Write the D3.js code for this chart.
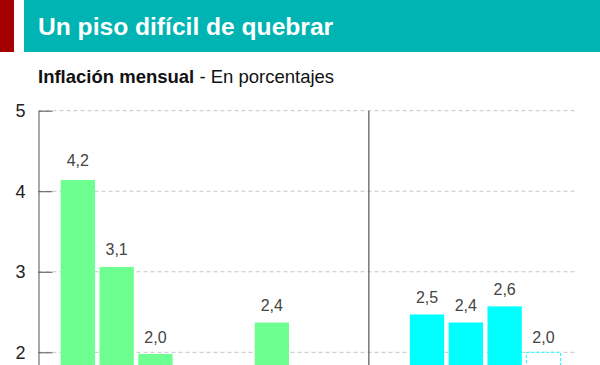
<!DOCTYPE html>
<html><head><meta charset="utf-8">
<script src="https://cdn.jsdelivr.net/npm/d3@7"></script>
<style>
html,body{margin:0;padding:0;background:#fff;overflow:hidden}
svg{display:block;font-family:"Liberation Sans",Arial,Helvetica,sans-serif}
</style></head>
<body><svg id="c" width="600" height="365"></svg>
<script>
const title = "Un piso difícil de quebrar";
const subtitleBold = "Inflación mensual";
const subtitleRest = " - En porcentajes";
const months = ["May 16","Jun 16","Jul 16","Ago 16","Sep 16","Oct 16","Nov 16","Dic 16","Ene 17","Feb 17","Mar 17","Abr 17","May 17"];
const years = ["2016","2016","2016","2016","2016","2016","2016","2016","2017","2017","2017","2017","2017"];
const barValues = [4.14, 3.06, 1.98, 0.2, 1.1, 2.37, 1.6, 1.2, 1.3, 2.47, 2.37, 2.57, 2.0];
const labelValues = [4.2, 3.1, 2.0, 0.2, 1.1, 2.4, 1.6, 1.2, 1.3, 2.5, 2.4, 2.6, 2.0];
const estimate = [false,false,false,false,false,false,false,false,false,false,false,false,true];
const yTicks = [2, 3, 4, 5];

const W = 600, H = 365;
const svg = d3.select("#c");
const fmt = v => d3.format(".1f")(v).replace(".", ",");

// header
svg.append("rect").attr("x",0).attr("y",0).attr("width",14).attr("height",52).attr("fill","#a50000");
svg.append("rect").attr("x",24).attr("y",0).attr("width",576).attr("height",52).attr("fill","#00b4b4");
svg.append("text").attr("x",38).attr("y",35).attr("fill","#fff")
  .attr("font-size",24.6).attr("font-weight","bold").text(title);

const sub = svg.append("text").attr("x",38).attr("y",83).attr("font-size",18.5).attr("fill","#111");
sub.append("tspan").attr("font-weight","bold").text(subtitleBold);
sub.append("tspan").text(subtitleRest);

const y = d3.scaleLinear().domain([0,5]).range([513.4,110.7]);
const x = d3.scaleBand().domain(months).range([41.3,580]).paddingInner(0.116).paddingOuter(0.5);
const axisX = 38.5, gridEnd = 575;

// gridlines
svg.append("g").selectAll("line").data(yTicks).join("line")
  .attr("x1",axisX).attr("x2",gridEnd)
  .attr("y1",d=>y(d)).attr("y2",d=>y(d))
  .attr("stroke","#c4c4c4").attr("stroke-width",1).attr("stroke-dasharray","4,3");

// bars
const data = months.map((m,i)=>({m, year:years[i], v:barValues[i], lab:labelValues[i], est:estimate[i]}));
const color = d3.scaleOrdinal().domain(["2016","2017"]).range(["#6dff8f","#00ffff"]);
svg.append("g").selectAll("rect").data(data).join("rect")
  .attr("x",d=>x(d.m)).attr("width",x.bandwidth())
  .attr("y",d=>y(d.v)).attr("height",d=>y(0)-y(d.v))
  .attr("fill",d=>d.est ? "#ffffff" : color(d.year))
  .attr("stroke",d=>d.est ? color(d.year) : "none")
  .attr("stroke-dasharray",d=>d.est ? "3,2" : null)
  .attr("stroke-width",1);

// value labels (only those that fall inside the visible frame, as in the reference)
const labelY = d => y(d.lab) - 9;
svg.append("g").selectAll("text").data(data.filter(d => labelY(d) < H - 12)).join("text")
  .attr("x",d=>x(d.m)+x.bandwidth()/2)
  .attr("y",labelY)
  .attr("text-anchor","middle").attr("font-size",16).attr("fill","#444")
  .text(d=>fmt(d.lab));

// y axis
const ax = svg.append("g").attr("transform",`translate(${axisX},0)`)
  .call(d3.axisLeft(y).tickValues(yTicks).tickSizeInner(-14).tickSizeOuter(0).tickPadding(13).tickFormat(d3.format("d")));
ax.select(".domain").attr("stroke","#555");
ax.selectAll(".tick line").attr("stroke","#555");
ax.selectAll(".tick text").attr("font-size",18).attr("fill","#222")
  .attr("font-family","'Liberation Sans',Arial,sans-serif");

// year divider
const divX = (x(months[7]) + x.bandwidth() + x(months[8]))/2;
svg.append("line").attr("x1",divX).attr("x2",divX).attr("y1",y(5)).attr("y2",y(0))
  .attr("stroke","#555").attr("stroke-width",1.2);
</script></body></html>
